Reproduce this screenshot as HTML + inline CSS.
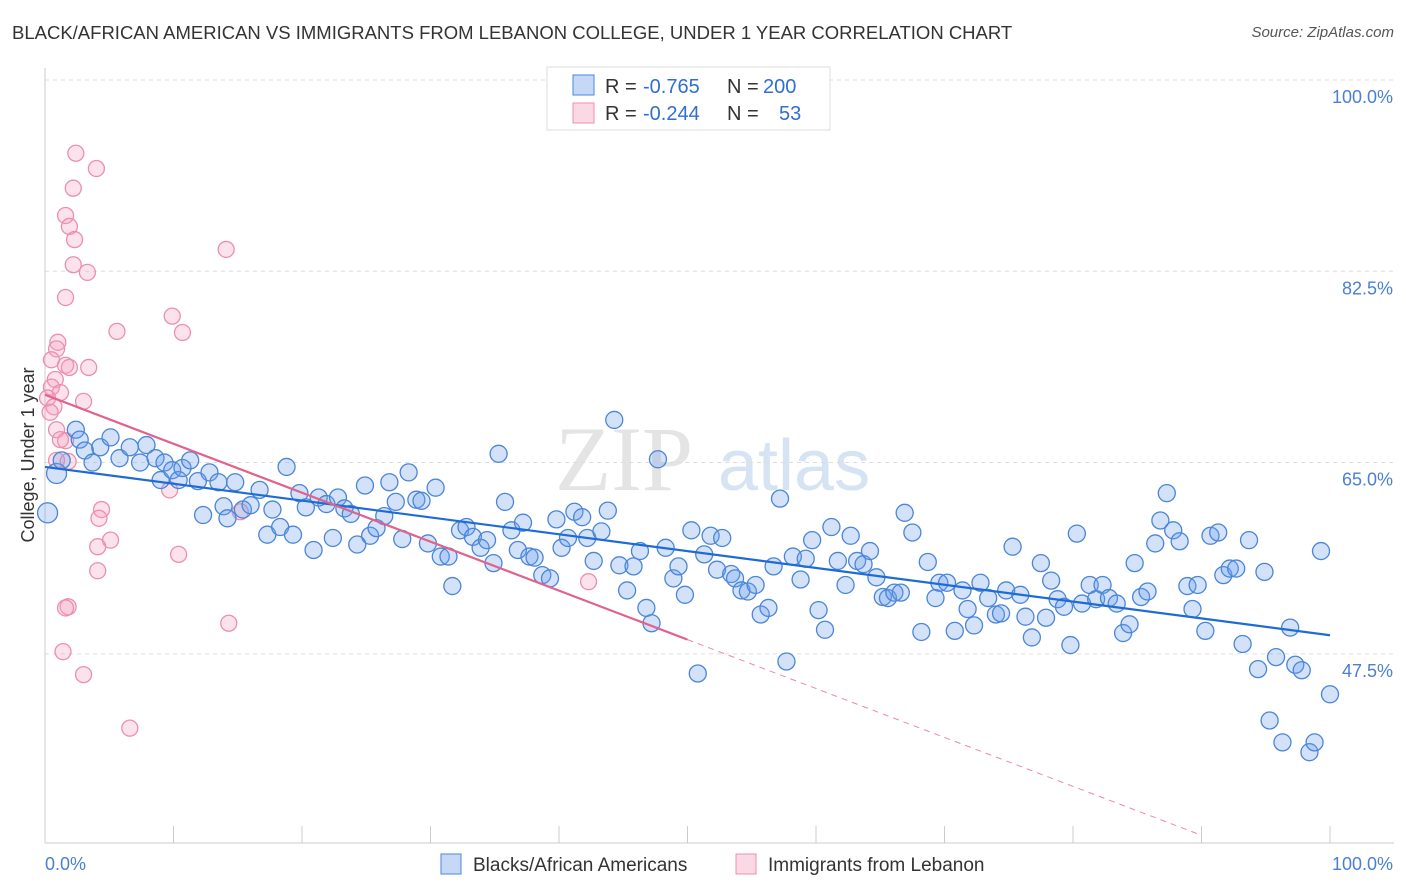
<!DOCTYPE html>
<html><head><meta charset="utf-8">
<style>
body{margin:0;background:#fff;font-family:"Liberation Sans",sans-serif;}
#wrap{position:relative;width:1406px;height:892px;overflow:hidden;}
.title{position:absolute;left:12px;top:22px;font-size:18.5px;color:#333;}
.source{position:absolute;right:12px;top:24px;font-size:15px;color:#555;font-style:italic;}
</style></head>
<body>
<div id="wrap">
<div class="title">BLACK/AFRICAN AMERICAN VS IMMIGRANTS FROM LEBANON COLLEGE, UNDER 1 YEAR CORRELATION CHART</div>
<div class="source">Source: ZipAtlas.com</div>
<svg id="svg" width="1406" height="892" style="position:absolute;left:0;top:0"></svg>
</div>
<script>
const yTicks=[100,82.5,65,47.5];
const yTickLabels=["100.0%","82.5%","65.0%","47.5%"];
const xTickLabels=["0.0%","100.0%"];
const blueX=[0.2,0.9,1.3,2.4,2.7,3.1,3.7,4.3,5.1,5.8,6.6,7.4,7.9,8.6,9.0,9.3,9.9,10.4,10.7,11.3,11.9,12.3,12.8,13.5,13.9,14.2,14.8,15.4,16.0,16.7,17.3,17.7,18.3,18.8,19.3,19.8,20.3,20.9,21.3,21.9,22.4,22.8,23.3,23.8,24.3,24.9,25.3,25.8,26.4,26.8,27.3,27.8,28.3,28.9,29.3,29.8,30.4,30.8,31.4,31.7,32.3,32.8,33.3,33.9,34.4,34.9,35.3,35.8,36.3,36.8,37.2,37.7,38.1,38.7,39.3,39.8,40.2,40.7,41.2,41.8,42.2,42.7,43.3,43.8,44.3,44.7,45.3,45.8,46.3,46.8,47.2,47.7,48.3,48.9,49.3,49.8,50.3,50.8,51.3,51.8,52.3,52.7,53.4,53.7,54.2,54.7,55.3,55.7,56.3,56.7,57.2,57.7,58.2,58.8,59.2,59.7,60.2,60.7,61.2,61.7,62.3,62.7,63.2,63.7,64.2,64.7,65.2,65.6,66.1,66.6,66.9,67.5,68.2,68.7,69.3,69.6,70.2,70.8,71.4,71.8,72.3,72.8,73.4,74.0,74.4,74.8,75.3,75.9,76.3,76.8,77.5,77.9,78.3,78.8,79.3,79.8,80.3,80.7,81.3,81.8,82.3,82.8,83.4,83.9,84.4,84.8,85.3,85.8,86.4,86.8,87.3,87.8,88.3,88.9,89.3,89.7,90.3,90.7,91.3,91.7,92.2,92.7,93.2,93.7,94.4,94.9,95.3,95.8,96.3,96.9,97.3,97.8,98.4,98.8,99.3,100];
const blueY=[60.4,64.0,65.2,68.0,67.1,66.1,65.0,66.4,67.3,65.4,66.4,65.0,66.6,65.4,63.4,65.0,64.3,63.4,64.5,65.2,63.3,60.2,64.1,63.2,61.0,59.9,63.2,60.7,61.1,62.5,58.4,60.7,59.1,64.6,58.4,62.2,60.9,57.0,61.8,61.2,58.1,61.8,60.8,60.3,57.5,62.9,58.3,59.0,60.1,63.2,61.4,58.0,64.1,61.6,61.5,57.6,62.7,56.4,56.4,53.7,58.8,59.1,58.2,57.2,57.9,55.8,65.8,61.4,58.8,57.0,59.5,56.4,56.3,54.7,54.4,59.8,57.2,58.1,60.5,60.0,58.1,56.0,58.7,60.6,68.9,55.6,53.3,55.5,56.9,51.7,50.3,65.3,57.2,54.4,55.5,52.9,58.8,45.7,56.6,58.3,55.2,58.1,54.8,54.4,53.3,53.2,53.8,51.1,51.7,55.5,61.7,46.8,56.4,54.3,56.2,57.9,51.5,49.7,59.1,56.0,53.8,58.3,56.0,55.7,56.9,54.5,52.7,52.6,53.1,53.1,60.4,58.6,49.5,55.9,52.6,54.0,54.0,49.6,53.3,51.6,50.1,54.0,52.6,51.1,51.2,53.3,57.3,52.9,50.9,49.0,55.8,50.8,54.2,52.5,51.8,48.3,58.5,52.1,53.8,52.5,53.8,52.6,52.1,49.4,50.2,55.8,52.7,53.2,57.6,59.7,62.2,58.8,57.8,53.7,51.6,53.8,49.6,58.3,58.6,54.7,55.3,55.3,48.4,57.9,46.1,55.0,41.4,47.2,39.4,49.9,46.5,46.0,38.5,39.4,56.9,43.8];
const pinkX=[2.4,4.0,2.2,1.6,1.9,2.3,14.1,2.2,3.3,1.6,9.9,5.6,10.7,1.0,0.9,0.5,1.6,1.9,3.4,0.8,0.5,1.2,0.2,3.0,0.7,0.4,0.9,1.6,0.9,1.8,9.7,4.4,4.2,5.1,4.1,10.4,4.1,1.8,1.6,14.3,15.2,42.3,1.4,3.0,6.6,1.2];
const pinkY=[93.3,91.9,90.1,87.6,86.6,85.4,84.5,83.1,82.4,80.1,78.4,77.0,76.9,76.0,75.4,74.4,73.9,73.7,73.7,72.6,71.9,71.4,70.9,70.6,70.1,69.6,68.0,67.0,65.2,65.1,62.5,60.7,59.9,57.9,57.3,56.6,55.1,51.8,51.7,50.3,60.5,54.1,47.7,45.6,40.7,67.1];
const blueFit=[64.6,49.2];
const pinkFit=[71.2,48.8,30.9];

const X0=45,X1=1330,Y100=80,PXPER=10.93;
const xs=v=>X0+(X1-X0)*v/100;
const ys=v=>Y100+(100-v)*PXPER;
const NS="http://www.w3.org/2000/svg";
const svg=document.getElementById('svg');
function mk(tag,at,parent){const e=document.createElementNS(NS,tag);for(const k in at)e.setAttribute(k,at[k]);(parent||svg).appendChild(e);return e;}

let wm=mk('text',{x:555,y:490,'font-size':92,fill:'#e4e4e4','font-family':'Liberation Serif, serif'});
wm.textContent='ZIP';
let wm2=mk('text',{x:718,y:490,'font-size':72,fill:'#d6e3f3','font-family':'Liberation Sans, sans-serif'});
wm2.textContent='atlas';

yTicks.forEach((t,i)=>{
  const g=mk('line',{x1:45,x2:1394,y1:ys(t),y2:ys(t),stroke:'#ddd','stroke-dasharray':'4,4'});
  
  const tx=mk('text',{x:1393,y:ys(t)+23,'text-anchor':'end','font-size':18,fill:'#4a7fd4'});
  tx.textContent=yTickLabels[i];
});
let ax=mk('line',{x1:45,x2:1394,y1:843,y2:843,stroke:'#ccc'});

let ay=mk('line',{x1:45,x2:45,y1:68,y2:843,stroke:'#ccc'});

for(let i=0;i<=10;i++){const t=mk('line',{x1:xs(i*10),x2:xs(i*10),y1:826,y2:843,stroke:'#ccc'});
}
let xl0=mk('text',{x:45,y:870,'font-size':18,fill:'#4a7fd4'});
xl0.textContent=xTickLabels[0];
let xl1=mk('text',{x:1393,y:870,'text-anchor':'end','font-size':18,fill:'#4a7fd4'});
xl1.textContent=xTickLabels[1];
let yt=mk('text',{x:34,y:455,'font-size':18,fill:'#333','text-anchor':'middle',transform:'rotate(-90 34 455)'});
yt.textContent='College, Under 1 year';

pinkX.forEach((x,i)=>{const c=mk('circle',{cx:xs(x),cy:ys(pinkY[i]),r:8,fill:'rgba(244,160,188,0.3)',stroke:'#ec8fae','stroke-width':1.3});
});
blueX.forEach((x,i)=>{const big=i<2;const c=mk('circle',{cx:xs(x),cy:ys(blueY[i]),r:big?10:8.5,fill:'rgba(110,160,235,0.3)',stroke:'#4a86d8','stroke-width':1.3});
});

let bl=mk('line',{x1:xs(0),y1:ys(blueFit[0]),x2:xs(100),y2:ys(blueFit[1]),stroke:'#1f6bd6','stroke-width':2.2});

let pl=mk('line',{x1:xs(0),y1:ys(pinkFit[0]),x2:xs(50),y2:ys(pinkFit[1]),stroke:'#e0628d','stroke-width':2.2});

let pd=mk('line',{x1:xs(50),y1:ys(pinkFit[1]),x2:xs(90),y2:ys(pinkFit[2]),stroke:'#e88aaa','stroke-width':1,'stroke-dasharray':'6,5'});


let lg=mk('g',{});
mk('rect',{x:547,y:67,width:283,height:63,fill:'#fff',stroke:'#ddd'},lg);
mk('rect',{x:573,y:75,width:21,height:20,fill:'rgba(110,160,235,0.4)',stroke:'#4a86d8'},lg);
mk('rect',{x:573,y:103,width:21,height:20,fill:'rgba(244,160,188,0.4)',stroke:'#ec8fae'},lg);
function lt(x,y,s,c){const t=mk('text',{x:x,y:y,'font-size':20,fill:c},lg);t.textContent=s;return t;}
lt(605,93,'R =','#333');lt(643,93,'-0.765','#2f6fd1');lt(727,93,'N =','#333');lt(763,93,'200','#2f6fd1');
lt(605,120,'R =','#333');lt(643,120,'-0.244','#2f6fd1');lt(727,120,'N =','#333');lt(779,120,'53','#2f6fd1');

let bg=mk('g',{});
mk('rect',{x:441,y:854,width:20,height:20,fill:'rgba(110,160,235,0.4)',stroke:'#4a86d8'},bg);
let b1=mk('text',{x:473,y:871,'font-size':19,fill:'#333'},bg);b1.textContent='Blacks/African Americans';
mk('rect',{x:736,y:854,width:20,height:20,fill:'rgba(244,160,188,0.4)',stroke:'#ec8fae'},bg);
let b2=mk('text',{x:768,y:871,'font-size':19,fill:'#333'},bg);b2.textContent='Immigrants from Lebanon';
</script>
</body></html>
